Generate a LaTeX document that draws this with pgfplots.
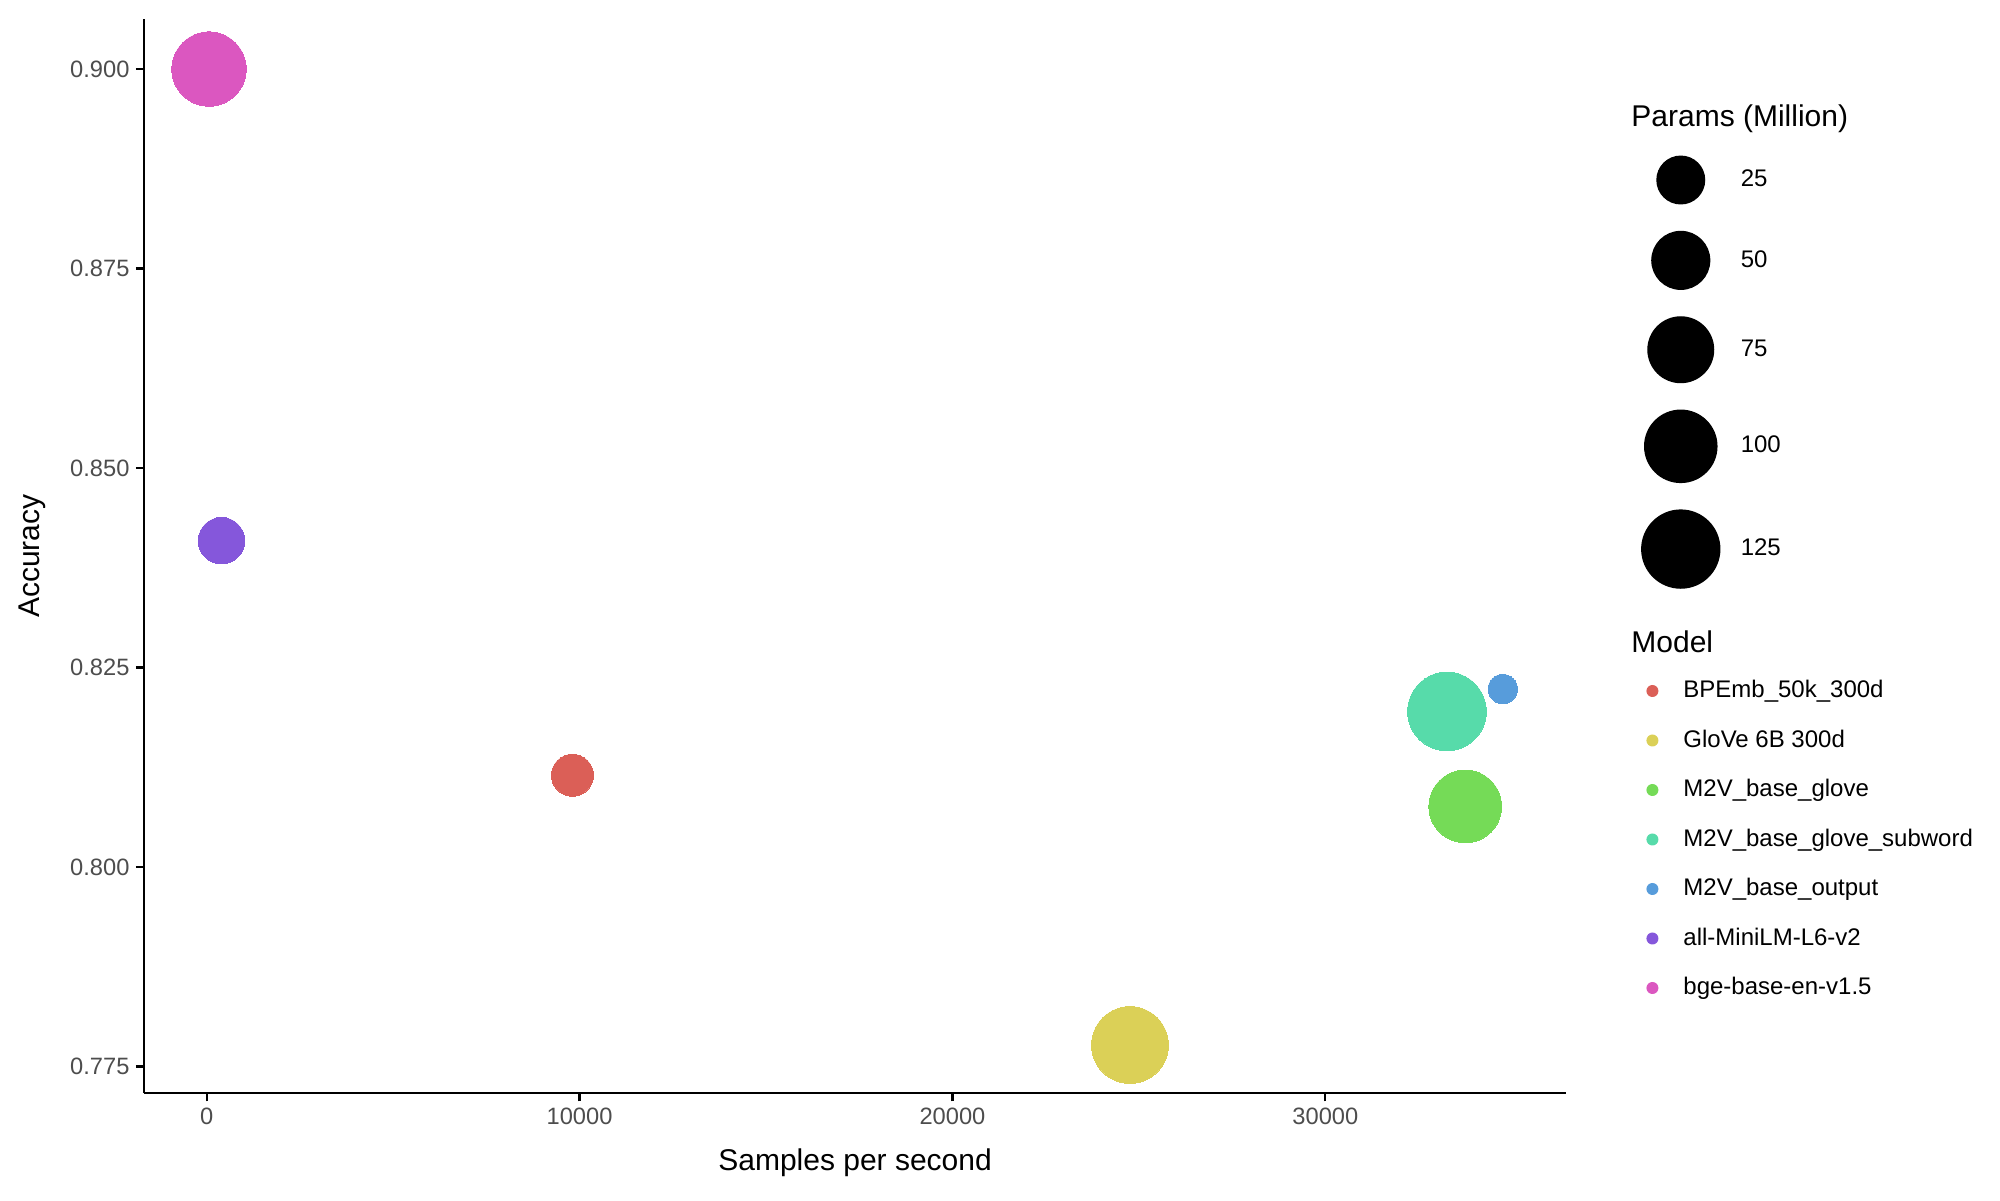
\documentclass[border=0pt]{standalone}
\usepackage{fontspec}
\setmainfont{Liberation Sans}
\setsansfont{Liberation Sans}
\usepackage{pgfplots}
\pgfplotsset{compat=1.18}
\definecolor{cBPE}{HTML}{DB5F57}
\definecolor{cGlove}{HTML}{DBD057}
\definecolor{cM2Vg}{HTML}{75DB57}
\definecolor{cM2Vs}{HTML}{57DBAA}
\definecolor{cM2Vo}{HTML}{579CDB}
\definecolor{cMini}{HTML}{8557DB}
\definecolor{cBge}{HTML}{DB57C0}
\definecolor{tickgrey}{HTML}{4D4D4D}
\pgfplotsset{
  dotleg/.style={legend image code/.code={\fill[##1,draw=none] (1.8pt,2pt) circle[radius=1.8pt];}},
  sizeleg/.style={legend image code/.code={\fill[black] (0pt,2pt) circle[radius={3.45pt+0.738pt*sqrt(#1)}];}},
  bub/.style={only marks, mark=*, mark size={3.45pt+0.738pt*sqrt(#1)}, mark options={line width=0pt}, dotleg},
}
\begin{document}
\begin{tikzpicture}
\useasboundingbox (-43.23pt,-32.1pt) rectangle (556.77pt,327.9pt);
\begin{axis}[
  at={(0,0)}, anchor=south west, scale only axis,
  width=426.6pt, height=322.2pt,
  xmin=-1676, xmax=36455, ymin=0.77168, ymax=0.90627,
  axis lines*=left,
  axis line style={line width=0.65pt, black},
  tick align=outside, major tick length=2.5pt,
  tick style={line width=0.65pt, black},
  xtick={0,10000,20000,30000},
  ytick={0.775,0.8,0.825,0.85,0.875,0.9},
  minor tick num=0,
  scaled ticks=false,
  /pgf/number format/assume math mode=true,
  xticklabel style={font=\fontsize{7.1}{8.5}\selectfont, text=tickgrey, anchor=north, inner sep=0pt, yshift=-1.7pt,
    /pgf/number format/set thousands separator={}, /pgf/number format/fixed},
  yticklabel style={font=\fontsize{7.1}{8.5}\selectfont, text=tickgrey, anchor=east, inner sep=0pt, xshift=-1.7pt,
    /pgf/number format/fixed, /pgf/number format/fixed zerofill, /pgf/number format/precision=3},
  xlabel={Samples per second}, ylabel={Accuracy},
  label style={font=\fontsize{9}{11}\selectfont, inner sep=0pt},
  xlabel style={at={(axis description cs:0.5,-0.0652)}, anchor=center},
  ylabel style={at={(axis description cs:-0.0788,0.5)}, anchor=center},
  legend style={at={(1.05649,0.38424)}, anchor=north west, draw=none, fill=none,
    inner sep=0pt, outer sep=0pt, row sep=8.15pt, column sep=7.5pt,
    cells={anchor=base west},
    nodes={inner sep=0pt, text height=5.2pt, text depth=1.5pt, font=\fontsize{7.2}{8.6}\selectfont}},
]
\addplot[bub=15, color=cBPE] coordinates {(9810,0.8115)};
\addlegendentry{BPEmb\_50k\_300d}
\addplot[bub=120, color=cGlove] coordinates {(24760,0.7777)};
\addlegendentry{GloVe 6B 300d}
\addplot[bub=102, color=cM2Vg] coordinates {(33750,0.8076)};
\addlegendentry{M2V\_base\_glove}
\addplot[bub=128, color=cM2Vs] coordinates {(33260,0.8195)};
\addlegendentry{M2V\_base\_glove\_subword}
\addplot[bub=1.7, color=cM2Vo] coordinates {(34758,0.8223)};
\addlegendentry{M2V\_base\_output}
\addplot[bub=22.7, color=cMini] coordinates {(400,0.8409)};
\addlegendentry{all-MiniLM-L6-v2}
\addplot[bub=109, color=cBge] coordinates {(65,0.9000)};
\addlegendentry{bge-base-en-v1.5}
\end{axis}
\begin{axis}[
  at={(0,0)}, anchor=south west, scale only axis,
  width=426.6pt, height=322.2pt, hide axis,
  xmin=0, xmax=1, ymin=0, ymax=1,
  legend style={at={(1.05274,0.87287)}, anchor=north west, draw=none, fill=none,
    inner sep=0pt, outer sep=0pt, row sep=7.9pt, column sep=6.1pt,
    cells={anchor=base west},
    nodes={inner sep=0pt, text height=5.2pt, text depth=1.5pt, font=\fontsize{7.2}{8.6}\selectfont}},
]
\addlegendimage{sizeleg=25}\addlegendentry{25}
\addlegendimage{sizeleg=50}\addlegendentry{50}
\addlegendimage{sizeleg=75}\addlegendentry{75}
\addlegendimage{sizeleg=100}\addlegendentry{100}
\addlegendimage{sizeleg=125}\addlegendentry{125}
\end{axis}
\node[anchor=base west, inner sep=0pt, font=\fontsize{9}{11}\selectfont] at (446pt,289.9pt) {Params (Million)};
\node[anchor=base west, inner sep=0pt, font=\fontsize{9}{11}\selectfont] at (446pt,132.2pt) {Model};
\end{tikzpicture}
\end{document}
